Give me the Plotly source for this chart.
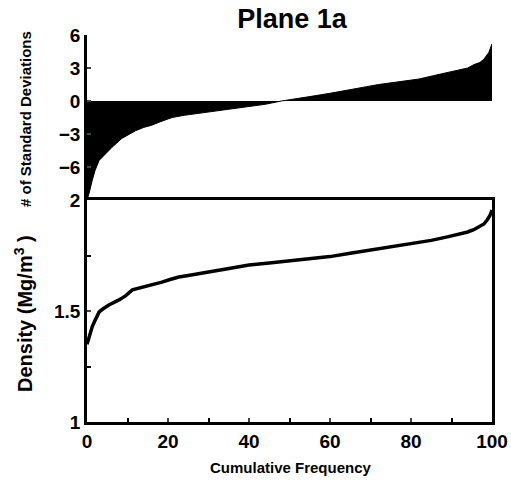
import plotly.graph_objects as go

# ---- data ----
freq_sd = [0, 0.5, 1.3, 2, 3, 4, 4.7, 6.2, 8.6, 10, 12, 14, 16, 18, 21, 24, 26, 29.6, 33, 36,
           40, 44, 48, 52, 55, 60, 65, 69, 72, 76.5, 82, 85.5, 89, 92, 94, 95.5, 97, 98, 98.7,
           99.2, 99.6, 100]
std_dev = [-9.0, -8.4, -7.2, -6.3, -5.4, -5.0, -4.8, -4.2, -3.4, -3.1, -2.7, -2.4, -2.2, -1.9,
           -1.5, -1.3, -1.2, -1.05, -0.85, -0.7, -0.5, -0.3, 0.0, 0.2, 0.4, 0.7, 1.0, 1.3, 1.5,
           1.7, 2.0, 2.3, 2.6, 2.8, 3.0, 3.3, 3.5, 3.8, 4.1, 4.4, 4.8, 5.2]

freq_den = [0, 0.5, 1.3, 2, 3, 4, 5.4, 7.9, 9.5, 11.2, 13, 14.5, 16.5, 18.5, 20.5, 22.7, 25,
            26.9, 30, 34, 37, 40, 45, 50, 55, 60, 65, 69, 72.5, 76, 80.7, 85, 89, 92, 94, 95.5,
            97, 98, 98.8, 99.5, 100]
density = [1.350, 1.385, 1.430, 1.458, 1.496, 1.510, 1.527, 1.550, 1.568, 1.595, 1.603, 1.613,
           1.622, 1.630, 1.642, 1.653, 1.660, 1.667, 1.676, 1.688, 1.697, 1.707, 1.716, 1.726,
           1.735, 1.745, 1.760, 1.772, 1.784, 1.794, 1.806, 1.818, 1.834, 1.845, 1.856, 1.866,
           1.880, 1.892, 1.910, 1.930, 1.955]

x_ticks = [0, 20, 40, 60, 80, 100]
sd_ticks = [-6, -3, 0, 3, 6]
den_ticks = [1, 1.5, 2]
den_labels = ["1", "1.5", "2"]

FONT = "Liberation Sans"
PH = 483 - 35 - 61
split = 222 / PH

fig = go.Figure()
fig.add_trace(go.Scatter(x=freq_sd, y=std_dev, mode="lines", line=dict(color="black", width=1),
                         fill="tozeroy", fillcolor="black", xaxis="x2", yaxis="y2", showlegend=False))
fig.add_trace(go.Scatter(x=freq_den, y=density, mode="lines", line=dict(color="black", width=3.5),
                         xaxis="x", yaxis="y", showlegend=False))

tickfont = dict(family=FONT, size=19, color="black", weight="bold")

fig.update_layout(
    width=511, height=483,
    margin=dict(l=87, r=19, t=35, b=61),
    paper_bgcolor="white", plot_bgcolor="white",
    title=dict(text="Plane 1a", xref="paper", x=(292 - 87) / 405, xanchor="center",
               y=1 - 19 / 483, yanchor="middle",
               font=dict(family=FONT, size=27, color="black", weight="bold")),
    xaxis=dict(domain=[0, 1], range=[0, 100], tickvals=x_ticks, ticks="inside", ticklen=4, tickwidth=2,
               showline=True, linewidth=2.5, linecolor="black", mirror=True, showgrid=False, zeroline=False,
               tickfont=tickfont, anchor="y", automargin=False,
               minor=dict(dtick=10, tick0=0, ticks="inside", ticklen=4, tickwidth=2, tickcolor="black")),
    yaxis=dict(domain=[0, split], range=[1, 2], tickvals=den_ticks, ticktext=den_labels, ticks="inside",
               ticklen=4, tickwidth=2, showline=True, linewidth=2.5, linecolor="black", mirror=True,
               showgrid=False, zeroline=False, tickfont=tickfont, anchor="x", automargin=False,
               minor=dict(tickvals=[1.25, 1.75], ticks="inside", ticklen=4, tickwidth=2, tickcolor="black")),
    xaxis2=dict(domain=[0, 1], range=[0, 100], visible=False, anchor="y2", automargin=False),
    yaxis2=dict(domain=[split, 1], range=[-9, 6], tickvals=sd_ticks, ticks="inside", ticklen=4, tickwidth=2,
                showline=True, linewidth=2.5, linecolor="black", showgrid=False, zeroline=False,
                tickfont=tickfont, anchor="x2", automargin=False),
    annotations=[
        dict(text="# of Standard Deviations", textangle=-90, xref="paper", yref="paper",
             x=(25 - 87) / 405, y=(422 - 119) / PH, xanchor="center", yanchor="middle", showarrow=False,
             font=dict(family=FONT, size=15, color="black", weight="bold")),
        dict(text="Density (Mg/m<sup>3</sup> )", textangle=-90, xref="paper", yref="paper",
             x=(23 - 87) / 405, y=(422 - 314) / PH, xanchor="center", yanchor="middle", showarrow=False,
             font=dict(family=FONT, size=20, color="black", weight="bold")),
        dict(text="Cumulative Frequency", xref="paper", yref="paper",
             x=(291 - 87) / 405, y=(422 - 467) / PH, xanchor="center", yanchor="middle", showarrow=False,
             font=dict(family=FONT, size=15, color="black", weight="bold")),
    ],
)

fig.write_html("out.html")
